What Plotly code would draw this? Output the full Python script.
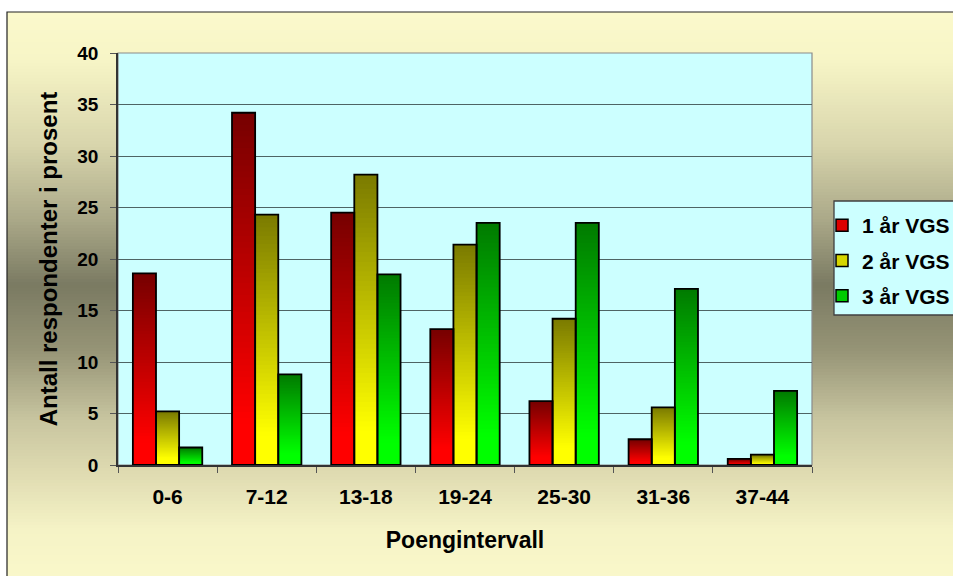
import plotly.graph_objects as go
import numpy as np

# ---------------- data ----------------
categories = ["0-6", "7-12", "13-18", "19-24", "25-30", "31-36", "37-44"]
series_names = ["1 år VGS", "2 år VGS", "3 år VGS"]
vgs1 = [18.6, 34.2, 24.5, 13.2, 6.2, 2.5, 0.6]
vgs2 = [5.2, 24.3, 28.2, 21.4, 14.2, 5.6, 1.0]
vgs3 = [1.7, 8.8, 18.5, 23.5, 23.5, 17.1, 7.2]
y_tick_values = [0, 5, 10, 15, 20, 25, 30, 35, 40]
x_title = "Poengintervall"
y_title = "Antall respondenter i prosent"

# ---------------- style ----------------
W, H = 953, 576
ML, MR, MT, MB = 118, 141, 53, 111
PW, PH = W - ML - MR, H - MT - MB
FONT = "Liberation Sans, Arial, sans-serif"

dark_cols = [(118, 0, 0), (122, 122, 0), (0, 122, 0)]
bright_cols = [(255, 0, 0), (255, 255, 0), (0, 255, 0)]
legend_cols = ["#DD0000", "#D6D600", "#00CC00"]
bar_w = 0.2333
offsets = [-0.35, -0.35 + bar_w, -0.35 + 2 * bar_w]
N = 60


def px_x(px):
    return (px - ML) / PW


def px_y(py):
    return (H - MB - py) / PH


def rgb(c):
    return "rgb(%d,%d,%d)" % tuple(int(round(v)) for v in c)


fig = go.Figure()
all_series = [vgs1, vgs2, vgs3]

# gradient-filled bars: overlapping layers, each from its base to the bar top
for s, vals in enumerate(all_series):
    v = np.array(vals, dtype=float)
    for k in range(N):
        f = (k + 0.5) / N
        t = min(max((f - 0.12) / 0.88, 0.0), 1.0)
        col = [bright_cols[s][i] + (dark_cols[s][i] - bright_cols[s][i]) * t for i in range(3)]
        fig.add_trace(go.Bar(
            x=categories, y=v * (1 - k / N), base=v * k / N,
            width=bar_w, offset=offsets[s],
            marker=dict(color=rgb(col), line=dict(width=0)),
            showlegend=False, hoverinfo="skip",
        ))

# outlines
for s, vals in enumerate(all_series):
    fig.add_trace(go.Bar(
        x=categories, y=vals, width=bar_w, offset=offsets[s],
        marker=dict(color="rgba(0,0,0,0)", line=dict(color="black", width=1.8)),
        showlegend=False, name=series_names[s],
    ))

# legend entries
for s in range(3):
    fig.add_trace(go.Bar(
        x=[categories[0]], y=[None], name=series_names[s],
        marker=dict(color=legend_cols[s], line=dict(color="black", width=1.5)),
        legendgroup=series_names[s], showlegend=True,
    ))

# ---------------- background shapes ----------------
stops = [
    (12, (251, 249, 204)), (60, (247, 245, 198)), (145, (216, 213, 172)),
    (220, (170, 168, 136)), (285, (122, 122, 98)), (350, (150, 148, 118)),
    (420, (200, 197, 160)), (475, (224, 220, 178)), (530, (245, 243, 198)),
    (580, (250, 248, 202)),
]
sy = [p for p, _ in stops]
shapes = []
step = 3
yy = 12
while yy < 580:
    mid = yy + step / 2
    col = [np.interp(mid, sy, [c[i] for _, c in stops]) for i in range(3)]
    shapes.append(dict(type="rect", xref="paper", yref="paper",
                       x0=px_x(7), x1=px_x(1000), y0=px_y(yy + step + 0.6), y1=px_y(yy),
                       fillcolor=rgb(col), line=dict(width=0), layer="below"))
    yy += step
# outer frame
shapes.append(dict(type="rect", xref="paper", yref="paper",
                   x0=px_x(7), x1=px_x(1000), y0=px_y(620), y1=px_y(12),
                   fillcolor="rgba(0,0,0,0)", line=dict(color="#222222", width=1.2), layer="below"))
# legend box
shapes.append(dict(type="rect", xref="paper", yref="paper",
                   x0=px_x(834), x1=px_x(1000), y0=px_y(315), y1=px_y(201),
                   fillcolor="#CCFFFF", line=dict(color="#404040", width=1.3), layer="below"))
# plot area
shapes.append(dict(type="rect", xref="x domain", yref="y domain",
                   x0=0, x1=1, y0=0, y1=1,
                   fillcolor="#CCFFFF", line=dict(color="#8A8A8A", width=1.2), layer="below"))

fig.update_layout(
    width=W, height=H,
    margin=dict(l=ML, r=MR, t=MT, b=MB, autoexpand=False),
    paper_bgcolor="white", plot_bgcolor="rgba(0,0,0,0)",
    barmode="overlay",
    font=dict(family=FONT, color="black"),
    shapes=shapes,
    showlegend=True,
    legend=dict(
        x=px_x(822), y=px_y(205), xanchor="left", yanchor="top",
        bgcolor="rgba(0,0,0,0)", borderwidth=0,
        font=dict(family=FONT, size=21, color="black", weight="bold"),
        traceorder="grouped", tracegroupgap=5, itemclick=False,
    ),
    xaxis=dict(
        type="category", categoryorder="array", categoryarray=categories,
        range=[-0.5, len(categories) - 0.5],
        showgrid=False, showline=True, linecolor="#333333", linewidth=1.5,
        ticks="outside", tickson="boundaries", ticklen=6, tickcolor="#555555", tickwidth=1.3,
        tickfont=dict(family=FONT, size=21, color="black", weight="bold"),
        ticklabelstandoff=12,
        title=dict(text=x_title, font=dict(family=FONT, size=23, color="black", weight="bold"),
                   standoff=25),
        fixedrange=True,
    ),
    yaxis=dict(
        range=[0, 40], tickvals=y_tick_values,
        showgrid=True, gridcolor="#4E6464", gridwidth=1.3,
        showline=True, linecolor="#333333", linewidth=1.5,
        ticks="outside", ticklen=6, tickcolor="#555555", tickwidth=1.3,
        tickfont=dict(family=FONT, size=19, color="black", weight="bold"),
        ticklabelstandoff=8,
        title=dict(text=y_title, font=dict(family=FONT, size=24, color="black", weight="bold"),
                   standoff=13),
        zeroline=False, fixedrange=True,
    ),
)

fig.write_html(
    "out.html",
    config={"displayModeBar": False},
    post_script="document.body.style.margin='0';document.body.style.padding='0';"
                "document.body.style.overflow='hidden';",
)
